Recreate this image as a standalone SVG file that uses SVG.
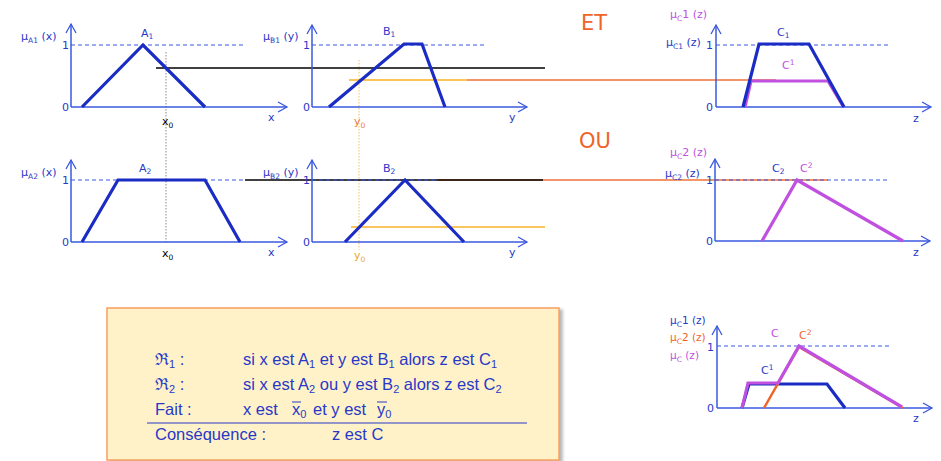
<svg xmlns="http://www.w3.org/2000/svg" width="941" height="461" viewBox="0 0 941 461">
<defs>
<marker id="ar" markerUnits="userSpaceOnUse" markerWidth="12" markerHeight="12" refX="10" refY="6" orient="auto">
<path d="M1,1 L10,6 L1,11" fill="none" stroke="#3a58e0" stroke-width="1.3"/>
</marker>
<filter id="sh" x="-5%" y="-5%" width="115%" height="115%">
<feDropShadow dx="3" dy="2" stdDeviation="1.5" flood-color="#888" flood-opacity="0.6"/>
</filter>
</defs>
<style>
text{font-family:"DejaVu Sans",Verdana,sans-serif;font-size:11px;fill:#2838c8}
.ax{stroke:#3a58e0;stroke-width:1.5;fill:none}
.dash{stroke:#3a58e0;stroke-width:1;stroke-dasharray:4 3;fill:none}
.cv{stroke:#1a2cc4;stroke-width:3.2;fill:none;stroke-linejoin:miter}
.mg{stroke:#c050e0;stroke-width:3.2;fill:none}
.og{stroke:#f06428;stroke-width:2.5;fill:none}
.sub{font-size:7.5px}
.num{text-anchor:end}
.m{fill:#c050e0}
.o{fill:#f06428}
.big{font-size:21px;fill:#f06428}
.box{font-family:"Liberation Sans",Arial,sans-serif;font-size:16.5px;fill:#2838c8}
.bsub{font-size:11px}
.sm{font-size:10.5px}
</style>

<g id="connectors">
<line x1="166" y1="52" x2="166" y2="242" stroke="#888" stroke-width="1" stroke-dasharray="1.5 1.5"/>
<line x1="359" y1="60" x2="359" y2="250" stroke="#f8c060" stroke-width="1" stroke-dasharray="1.5 1.5"/>
<line x1="156" y1="68" x2="545" y2="68" stroke="#000" stroke-width="1.3"/>
<line x1="349" y1="80" x2="467" y2="80" stroke="#f8b020" stroke-width="1.5"/>
<line x1="467" y1="80" x2="776" y2="80" stroke="#f07038" stroke-width="1.5"/>
<line x1="438" y1="180" x2="828" y2="180" stroke="#f07038" stroke-width="1.5"/>
<line x1="245" y1="180" x2="543" y2="180" stroke="#000" stroke-width="1.3"/>
<line x1="351" y1="227" x2="545" y2="227" stroke="#f8b428" stroke-width="1.5"/>
</g>

<g id="graph-A1">
<line class="ax" x1="71" y1="107" x2="71" y2="24" marker-end="url(#ar)"/>
<line class="ax" x1="71" y1="107" x2="287" y2="107" marker-end="url(#ar)"/>
<line class="dash" x1="71" y1="45" x2="245" y2="45"/>
<polyline class="cv" points="82,107 143,45 205,107"/>
<text x="21" y="40">μ<tspan class="sub" dy="3">A1</tspan><tspan dy="-3"> (x)</tspan></text>
<text class="num" x="69" y="49">1</text>
<text class="num" x="69" y="111">0</text>
<text x="141" y="37">A<tspan class="sub" dy="2">1</tspan></text>
<text x="162" y="125" style="fill:#000">x<tspan class="sub" dy="3">0</tspan></text>
<text x="268" y="121">x</text>
</g>

<g id="graph-B1">
<line class="ax" x1="312" y1="107" x2="312" y2="25" marker-end="url(#ar)"/>
<line class="ax" x1="312" y1="107" x2="527" y2="107" marker-end="url(#ar)"/>
<line class="dash" x1="312" y1="45" x2="487" y2="45"/>
<polyline class="cv" points="329,107 404,44 422,44 445,107"/>
<text x="263" y="40">μ<tspan class="sub" dy="3">B1</tspan><tspan dy="-3"> (y)</tspan></text>
<text class="num" x="310" y="49">1</text>
<text class="num" x="310" y="111">0</text>
<text x="383" y="35">B<tspan class="sub" dy="2">1</tspan></text>
<text x="354" y="125" style="fill:#f07838">y<tspan class="sub" dy="3">0</tspan></text>
<text x="509" y="121">y</text>
</g>

<g id="graph-C1">
<text class="big" x="581" y="30">ET</text>
<line class="ax" x1="716" y1="107" x2="716" y2="25" marker-end="url(#ar)"/>
<line class="ax" x1="716" y1="107" x2="931" y2="107" marker-end="url(#ar)"/>
<line class="dash" x1="716" y1="45" x2="890" y2="45"/>
<polyline class="mg" points="745,107 751,81 828,81 843,106"/>
<polyline class="cv" points="743,107 759,44 809,44 844,107"/>
<text class="m" x="670" y="18">μ<tspan class="sub m" dy="3">C</tspan><tspan dy="-3">1 (z)</tspan></text>
<text x="666" y="46">μ<tspan class="sub" dy="3">C1</tspan><tspan dy="-3"> (z)</tspan></text>
<text class="num" x="713" y="49">1</text>
<text class="num" x="713" y="111">0</text>
<text x="777" y="36">C<tspan class="sub" dy="2">1</tspan></text>
<text class="m" x="782" y="69">C<tspan class="sub m" dy="-4">1</tspan></text>
<text x="913" y="122">z</text>
</g>

<g id="graph-A2">
<line class="ax" x1="71" y1="242" x2="71" y2="160" marker-end="url(#ar)"/>
<line class="ax" x1="71" y1="242" x2="287" y2="242" marker-end="url(#ar)"/>
<line class="dash" x1="71" y1="180" x2="245" y2="180"/>
<polyline class="cv" points="82,242 118,180 205,180 240,242"/>
<text x="21" y="176">μ<tspan class="sub" dy="3">A2</tspan><tspan dy="-3"> (x)</tspan></text>
<text class="num" x="69" y="184">1</text>
<text class="num" x="69" y="246">0</text>
<text x="139" y="172">A<tspan class="sub" dy="2">2</tspan></text>
<text x="162" y="257" style="fill:#000">x<tspan class="sub" dy="3">0</tspan></text>
<text x="268" y="256">x</text>
</g>

<g id="graph-B2">
<line class="ax" x1="312" y1="242" x2="312" y2="160" marker-end="url(#ar)"/>
<line class="ax" x1="312" y1="242" x2="527" y2="242" marker-end="url(#ar)"/>
<line class="dash" x1="312" y1="180" x2="438" y2="180"/>
<polyline class="cv" points="345,242 405,180 464,242"/>
<text x="263" y="176">μ<tspan class="sub" dy="3">B2</tspan><tspan dy="-3"> (y)</tspan></text>
<text class="num" x="310" y="184">1</text>
<text class="num" x="310" y="246">0</text>
<text x="383" y="172">B<tspan class="sub" dy="2">2</tspan></text>
<text x="354" y="259" style="fill:#e8a830">y<tspan class="sub" dy="3">0</tspan></text>
<text x="509" y="256">y</text>
</g>

<g id="graph-C2">
<text class="big" x="579" y="148">OU</text>
<line class="ax" x1="715" y1="241" x2="715" y2="159" marker-end="url(#ar)"/>
<line class="ax" x1="715" y1="241" x2="930" y2="241" marker-end="url(#ar)"/>
<line class="dash" x1="715" y1="180" x2="890" y2="180"/>
<polyline class="mg" points="762,241 797,180 903,241"/>
<text class="m" x="670" y="156">μ<tspan class="sub m" dy="3">C</tspan><tspan dy="-3">2 (z)</tspan></text>
<text x="665" y="177">μ<tspan class="sub" dy="3">C2</tspan><tspan dy="-3"> (z)</tspan></text>
<text class="num" x="713" y="184">1</text>
<text class="num" x="713" y="245">0</text>
<text x="772" y="172">C<tspan class="sub" dy="2">2</tspan></text>
<text class="m" x="800" y="172">C<tspan class="sub m" dy="-4">2</tspan></text>
<text x="913" y="256">z</text>
</g>

<g id="rules-box">
<rect x="107" y="308" width="452" height="152" fill="#fff2c8" stroke="#f8a060" stroke-width="1.5" filter="url(#sh)"/>
<text class="box" x="155" y="365">ℜ<tspan class="bsub" dy="3">1</tspan><tspan dy="-3"> :</tspan></text>
<text class="box" x="243" y="365">si x est A<tspan class="bsub" dy="3">1</tspan><tspan dy="-3"> et y est B</tspan><tspan class="bsub" dy="3">1</tspan><tspan dy="-3"> alors z est C</tspan><tspan class="bsub" dy="3">1</tspan></text>
<text class="box" x="155" y="390">ℜ<tspan class="bsub" dy="3">2</tspan><tspan dy="-3"> :</tspan></text>
<text class="box" x="243" y="390">si x est A<tspan class="bsub" dy="3">2</tspan><tspan dy="-3"> ou y est B</tspan><tspan class="bsub" dy="3">2</tspan><tspan dy="-3"> alors z est C</tspan><tspan class="bsub" dy="3">2</tspan></text>
<text class="box" x="155" y="415">Fait :</text>
<text class="box" x="243" y="415">x est</text>
<text class="box" x="292" y="415">x<tspan class="bsub" dy="3">0</tspan></text>
<text class="box" x="313" y="415">et y est</text>
<text class="box" x="377" y="415">y<tspan class="bsub" dy="3">0</tspan></text>
<line x1="292" y1="402" x2="301" y2="402" stroke="#2838c8" stroke-width="1"/>
<line x1="377" y1="402" x2="387" y2="402" stroke="#2838c8" stroke-width="1"/>
<line x1="147" y1="423" x2="527" y2="423" stroke="#2838c8" stroke-width="1.2"/>
<text class="box" x="155" y="440">Conséquence :</text>
<text class="box" x="332" y="440">z est C</text>
</g>

<g id="graph-C">
<line class="ax" x1="717" y1="408" x2="717" y2="326" marker-end="url(#ar)"/>
<line class="ax" x1="717" y1="408" x2="932" y2="408" marker-end="url(#ar)"/>
<line class="dash" x1="717" y1="346" x2="890" y2="346"/>
<polyline class="cv" points="742,408 749,384 827,384 845,408"/>
<polyline class="og" points="764,408 799,347 903,408"/>
<polyline class="mg" points="742,408 748,383 778,383 799,346 902,407"/>
<text class="sm" x="670" y="324">μ<tspan class="sub" dy="3">C</tspan><tspan dy="-3">1 (z)</tspan></text>
<text class="o sm" x="670" y="341">μ<tspan class="sub o" dy="3">C</tspan><tspan dy="-3">2 (z)</tspan></text>
<text class="m sm" x="670" y="359">μ<tspan class="sub m" dy="3">C</tspan><tspan dy="-3"> (z)</tspan></text>
<text class="num" x="714" y="351">1</text>
<text class="num" x="714" y="412">0</text>
<text class="m" x="771" y="337">C</text>
<text class="o" x="799" y="339">C<tspan class="sub o" dy="-4">2</tspan></text>
<text x="761" y="374">C<tspan class="sub" dy="-4">1</tspan></text>
<text x="913" y="422">z</text>
</g>
</svg>
